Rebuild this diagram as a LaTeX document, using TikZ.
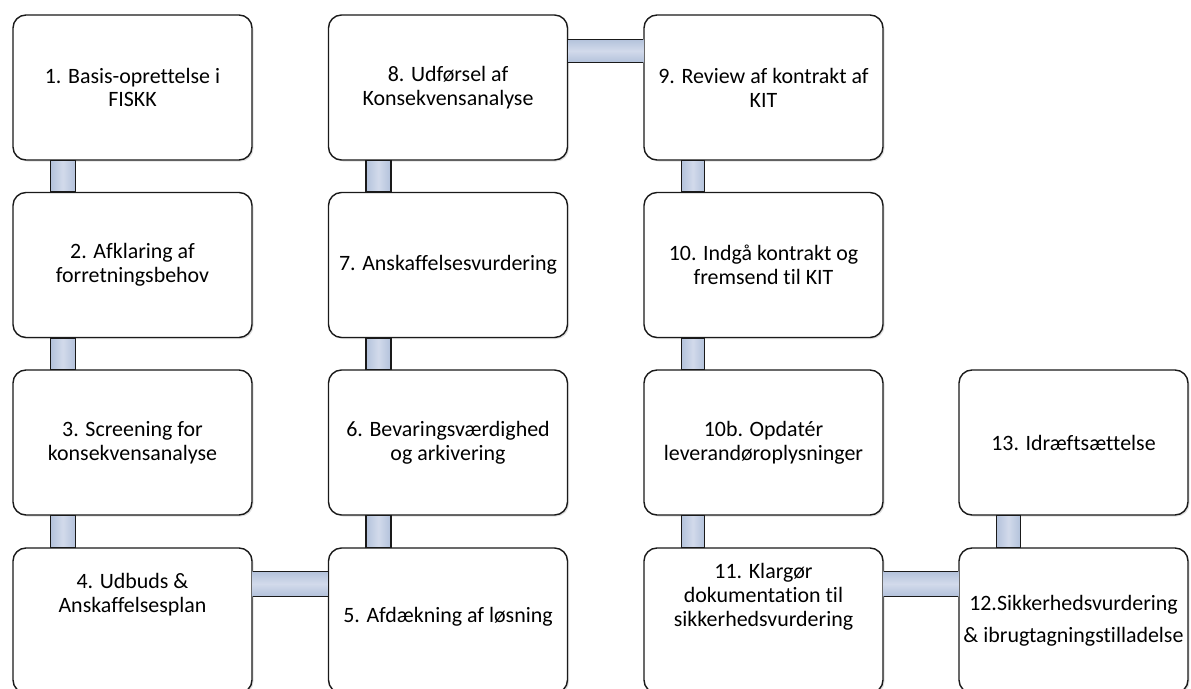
\documentclass[tikz,border=0pt]{standalone}
\usepackage{fontspec}
\setmainfont[Ligatures=NoCommon]{Carlito}
\usetikzlibrary{shadows}
\definecolor{conn}{HTML}{B3C2DB}
\definecolor{connmid}{HTML}{D2DAEB}
\definecolor{edge}{HTML}{1A1A1A}
\tikzset{
  stepbox/.style={draw=edge, line width=1.4bp, rounded corners=13bp, fill=white,
    minimum width=239bp, minimum height=145bp, align=center, inner sep=0pt,
    font=\fontsize{22}{24}\selectfont,
    drop shadow={shadow xshift=1.5bp, shadow yshift=-1.5bp, opacity=0.12, fill=black}},
  widebox/.style={stepbox, minimum width=229bp},
  txt/.style={align=center, inner sep=0pt, font=\fontsize{22}{24}\selectfont},
  vconn/.style={draw=edge, line width=1.4bp, left color=conn, right color=conn, middle color=connmid},
  hconn/.style={top color=conn, bottom color=conn, middle color=connmid},
  hline/.style={draw=edge, line width=1.4bp},
}
\begin{document}
\begin{tikzpicture}[x=1bp, y=-1bp]
\useasboundingbox (0,0) rectangle (1191,689);
\clip (0,0) rectangle (1191,689);
\fill[white] (0,0) rectangle (1191,689);
% column 1
\node[stepbox] (b1) at (132.5,87.5) {1. Basis-oprettelse i\\FISKK};
\node[stepbox] (b2) at (132.5,265) {2. Afklaring af\\forretningsbehov};
\node[stepbox] (b3) at (132.5,442.5) {3. Screening for\\konsekvensanalyse};
\node[stepbox] (b4) at (132.5,620.5) {};
% column 2
\node[stepbox] (b8) at (448,87.5) {8. Udførsel af\\Konsekvensanalyse};
\node[stepbox] (b7) at (448,265) {7. Anskaffelsesvurdering};
\node[stepbox] (b6) at (448,442.5) {6. Bevaringsværdighed\\og arkivering};
\node[stepbox] (b5) at (448,620.5) {};
% column 3
\node[stepbox] (b9) at (763.5,87.5) {9. Review af kontrakt af\\KIT};
\node[stepbox] (b10) at (763.5,265) {10. Indgå kontrakt og\\fremsend til KIT};
\node[stepbox] (b10b) at (763.5,442.5) {10b. Opdatér\\leverandøroplysninger};
\node[stepbox] (b11) at (763.5,620.5) {};
% column 4
\node[widebox] (b13) at (1073.5,442.5) {13. Idræftsættelse};
\node[widebox] (b12) at (1073.5,620.5) {};
% texts of the bottom row
\node[txt] (t4) at (132.5,595) {4. Udbuds \&\\Anskaffelsesplan};
\node[txt] (t5) at (448,617) {5. Afdækning af løsning};
\node[txt] (t11) at (763.5,597) {11. Klargør\\dokumentation til\\sikkerhedsvurdering};
\node[txt, font=\fontsize{22}{32}\selectfont] (t12) at (1073.5,621) {12.Sikkerhedsvurdering\\\& ibrugtagningstilladelse};
% vertical connectors
\draw[vconn] ([xshift=38bp]b1.south west) rectangle ([xshift=63bp]b2.north west);
\draw[vconn] ([xshift=38bp]b2.south west) rectangle ([xshift=63bp]b3.north west);
\draw[vconn] ([xshift=38bp]b3.south west) rectangle ([xshift=63bp]b4.north west);
\draw[vconn] ([xshift=38bp]b8.south west) rectangle ([xshift=63bp]b7.north west);
\draw[vconn] ([xshift=38bp]b7.south west) rectangle ([xshift=63bp]b6.north west);
\draw[vconn] ([xshift=38bp]b6.south west) rectangle ([xshift=63bp]b5.north west);
\draw[vconn] ([xshift=38bp]b9.south west) rectangle ([xshift=61bp]b10.north west);
\draw[vconn] ([xshift=38bp]b10.south west) rectangle ([xshift=61bp]b10b.north west);
\draw[vconn] ([xshift=38bp]b10b.south west) rectangle ([xshift=61bp]b11.north west);
\draw[vconn] ([xshift=38bp]b13.south west) rectangle ([xshift=62bp]b12.north west);
% horizontal connectors
\fill[hconn] ([yshift=-25bp]b8.north east) rectangle ([yshift=-48bp]b9.north west);
\draw[hline] ([yshift=-25bp]b8.north east) -- ([yshift=-25bp]b9.north west);
\draw[hline] ([yshift=-48bp]b8.north east) -- ([yshift=-48bp]b9.north west);
\fill[hconn] ([yshift=-24bp]b4.north east) rectangle ([yshift=-49bp]b5.north west);
\draw[hline] ([yshift=-24bp]b4.north east) -- ([yshift=-24bp]b5.north west);
\draw[hline] ([yshift=-49bp]b4.north east) -- ([yshift=-49bp]b5.north west);
\fill[hconn] ([yshift=-24bp]b11.north east) rectangle ([yshift=-49bp]b12.north west);
\draw[hline] ([yshift=-24bp]b11.north east) -- ([yshift=-24bp]b12.north west);
\draw[hline] ([yshift=-49bp]b11.north east) -- ([yshift=-49bp]b12.north west);
\end{tikzpicture}
\end{document}
